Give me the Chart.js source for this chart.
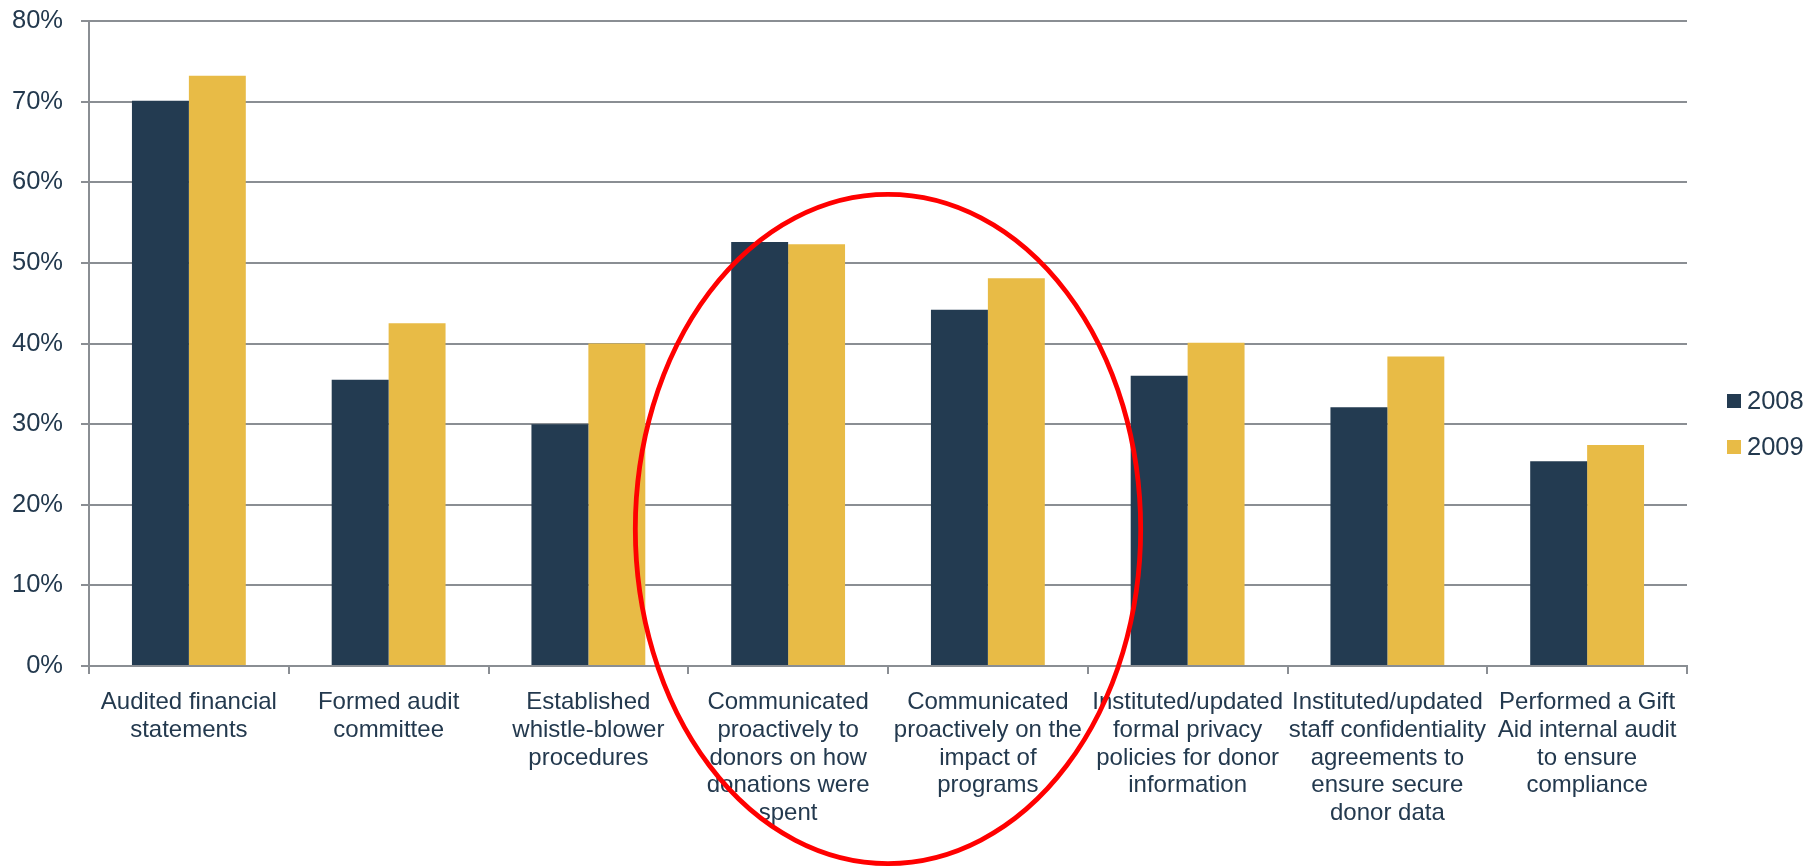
<!DOCTYPE html>
<html>
<head>
<meta charset="utf-8">
<script src="https://cdn.jsdelivr.net/npm/chart.js@4/dist/chart.umd.min.js"></script>
<style>
  html, body { margin: 0; padding: 0; background: #fff; }
  #wrap { width: 1810px; height: 866px; }
</style>
</head>
<body>
<div id="wrap"><canvas id="c" width="1810" height="866"></canvas></div>
<script>
const categories = [
  ['Audited financial', 'statements'],
  ['Formed audit', 'committee'],
  ['Established', 'whistle-blower', 'procedures'],
  ['Communicated', 'proactively to', 'donors on how', 'donations were', 'spent'],
  ['Communicated', 'proactively on the', 'impact of', 'programs'],
  ['Instituted/updated', 'formal privacy', 'policies for donor', 'information'],
  ['Instituted/updated', 'staff confidentiality', 'agreements to', 'ensure secure', 'donor data'],
  ['Performed a Gift', 'Aid internal audit', 'to ensure', 'compliance']
]
const seriesNames = ['2008', '2009']
const values2008 = [70.1, 35.5, 30.0, 52.6, 44.2, 36.0, 32.1, 25.4]
const values2009 = [73.2, 42.5, 40.0, 52.3, 48.1, 40.1, 38.4, 27.4]

const textColor = '#23394e'
const gridColor = '#8a8e93'
const fontFamily = "'Liberation Sans', Arial, sans-serif"

// red ring drawn around the two "communicated" groups
const highlight = {
  id: 'highlight',
  afterDraw(chart) {
    const x = chart.scales.x, y = chart.scales.y
    const step = x.getPixelForValue(1) - x.getPixelForValue(0)
    const cx = (x.getPixelForValue(3) + x.getPixelForValue(4)) / 2
    const cy = y.getPixelForValue(17)
    const rx = step * 1.265
    const ry = y.getPixelForValue(0) - y.getPixelForValue(41.5)
    const ctx = chart.ctx
    ctx.save()
    ctx.beginPath()
    ctx.ellipse(cx, cy, rx, ry, 0, 0, Math.PI * 2)
    ctx.strokeStyle = '#ff0000'
    ctx.lineWidth = 4.8
    ctx.stroke()
    ctx.restore()
  }
}

// legend to the right, centred on the whole picture like the original
const sideLegend = {
  id: 'sideLegend',
  afterDraw(chart) {
    const ctx = chart.ctx
    const x0 = chart.chartArea.right + 40
    const gap = 46
    const y0 = chart.height / 2 - 9 - gap / 2
    ctx.save()
    ctx.font = '25.5px ' + fontFamily
    ctx.textBaseline = 'middle'
    chart.data.datasets.forEach((ds, i) => {
      const yy = y0 + i * gap
      ctx.fillStyle = ds.backgroundColor
      ctx.fillRect(x0, yy - 7, 14, 14)
      ctx.fillStyle = textColor
      ctx.fillText(ds.label, x0 + 20, yy + 1)
    })
    ctx.restore()
  }
}

new Chart(document.getElementById('c').getContext('2d'), {
  type: 'bar',
  data: {
    labels: categories,
    datasets: [
      { label: seriesNames[0], data: values2008, backgroundColor: '#233b51' },
      { label: seriesNames[1], data: values2009, backgroundColor: '#e8bb46' }
    ]
  },
  options: {
    responsive: false,
    animation: false,
    layout: { padding: { top: 21, right: 123, left: 0, bottom: 0 } },
    categoryPercentage: 0.57,
    barPercentage: 1,
    plugins: {
      legend: { display: false },
      tooltip: { enabled: false }
    },
    scales: {
      x: {
        afterFit(scale) { scale.height = 200 },
        grid: { drawOnChartArea: false, color: gridColor, lineWidth: 2, tickLength: 8, offset: true },
        border: { color: gridColor, width: 2 },
        ticks: {
          color: textColor,
          font: { family: fontFamily, size: 24, lineHeight: 1.15 },
          maxRotation: 0,
          autoSkip: false,
          padding: 15
        }
      },
      y: {
        min: 0,
        max: 80,
        afterFit(scale) {
          scale.width = 89
          scale.paddingTop = 0
          scale.paddingBottom = 0
        },
        grid: { color: gridColor, lineWidth: 2, tickLength: 8 },
        border: { color: gridColor, width: 2 },
        ticks: {
          stepSize: 10,
          color: textColor,
          font: { family: fontFamily, size: 25.5 },
          padding: 18,
          callback: v => v + '%'
        }
      }
    }
  },
  plugins: [highlight, sideLegend]
})
</script>
</body>
</html>
